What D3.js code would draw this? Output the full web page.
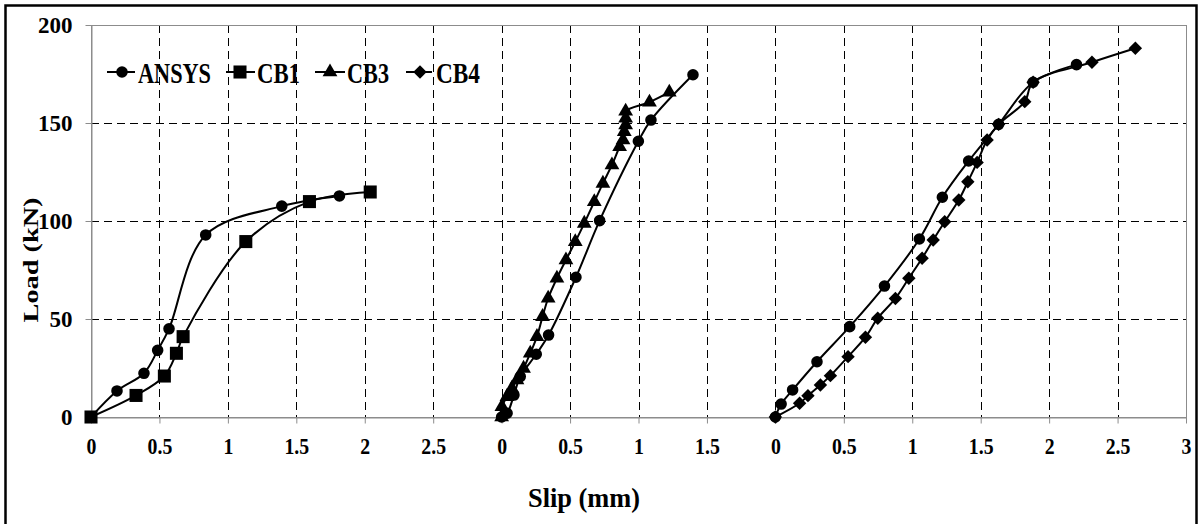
<!DOCTYPE html>
<html>
<head>
<meta charset="utf-8">
<script src="https://cdn.jsdelivr.net/npm/d3@7"></script>
<style>
  html, body { margin: 0; padding: 0; background: #fff; }
  svg { display: block; }
  text { font-family: "Liberation Serif", "DejaVu Serif", serif; font-weight: bold; fill: #000; }
</style>
</head>
<body>
<svg id="chart" width="1200" height="524"></svg>
<script>
// ---------------- DATA ----------------
// Shared x axis: three specimen groups placed side by side
const xTickLabels = ["0","0.5","1","1.5","2","2.5","0","0.5","1","1.5","0","0.5","1","1.5","2","2.5","3"];
const groupOffsets = [0, 3, 5];          // where each group's slip = 0 sits on the shared axis
const yTicks = [0, 50, 100, 150, 200];

// Group 1: ANSYS vs CB1
const ansys1Slip = [0, 0.19, 0.387, 0.487, 0.57, 0.838, 1.394, 1.815];
const ansys1Load = [0, 13.3, 22.3, 34, 45, 92.9, 107.6, 112.8];
const cb1Slip = [0, 0.329, 0.536, 0.624, 0.673, 1.131, 1.596, 2.04];
const cb1Load = [0, 11, 20.9, 32.5, 41, 89.5, 109.9, 114.8];

// Group 2: ANSYS vs CB3
const ansys3Slip = [0, 0.04, 0.09, 0.136, 0.253, 0.343, 0.543, 0.716, 0.999, 1.091, 1.398];
const ansys3Load = [0, 1.9, 11.2, 20.6, 32, 41.8, 71.3, 100.2, 140.7, 151.5, 174.6];
const cb3Slip = [0, 0.002, 0.039, 0.075, 0.112, 0.16, 0.209, 0.258, 0.299, 0.34, 0.404, 0.47, 0.538, 0.604, 0.677, 0.74, 0.806, 0.862, 0.887, 0.896, 0.906, 0.906, 0.906, 1.08, 1.225];
const cb3Load = [0, 5.3, 10.4, 14.6, 18.9, 24.8, 32.5, 41, 51.2, 60.6, 70.8, 80.1, 89.4, 98.8, 109.8, 119.2, 128.6, 137.9, 141.3, 145.6, 149, 152.4, 156, 160.6, 165.7];

// Group 3: ANSYS vs CB4
const ansys4Slip = [0, 0.042, 0.126, 0.304, 0.543, 0.797, 1.052, 1.22, 1.412, 1.631, 1.883, 2.2];
const ansys4Load = [0, 6.6, 13.8, 28.2, 46.1, 66.8, 90.8, 112.1, 130.6, 149.3, 170.8, 179.8];
const cb4Slip = [0, 0.177, 0.238, 0.329, 0.402, 0.531, 0.658, 0.748, 0.877, 0.975, 1.072, 1.153, 1.237, 1.34, 1.406, 1.474, 1.547, 1.631, 1.822, 1.883, 2.313, 2.63];
const cb4Load = [0, 7, 10.9, 16.3, 21.1, 30.8, 40.7, 50.4, 60.5, 70.8, 81, 90.3, 99.6, 110.7, 120, 129.9, 141.3, 149.3, 160.9, 170.8, 181, 188.1];

const legendNames = ["ANSYS", "CB1", "CB3", "CB4"];

// ---------------- CHART ----------------
const svg = d3.select("#chart");
const plot = { left: 91, right: 1186, top: 25, bottom: 417 };

const x = d3.scaleLinear().domain([0, 8]).range([plot.left, plot.right]);
const y = d3.scaleLinear().domain([0, 200]).range([plot.bottom, plot.top]);
const xTickVals = xTickLabels.map((_, i) => i * 0.5);

// outer frame
svg.append("rect").attr("x", 5.5).attr("y", 5.5).attr("width", 1191).attr("height", 600)
  .attr("fill", "#fff").attr("stroke", "#000").attr("stroke-width", 2.5);

// plot background
svg.append("rect").attr("x", plot.left).attr("y", plot.top)
  .attr("width", plot.right - plot.left).attr("height", plot.bottom - plot.top)
  .attr("fill", "#fff");

// gridlines
const grid = svg.append("g").attr("stroke", "#000").attr("stroke-width", 1).attr("stroke-dasharray", "8,5");
grid.selectAll("line.h").data(yTicks.filter(v => v > 0 && v < 200)).join("line")
  .attr("x1", plot.left).attr("x2", plot.right)
  .attr("y1", d => Math.round(y(d)) + 0.5).attr("y2", d => Math.round(y(d)) + 0.5);
grid.selectAll("line.v").data(xTickVals.filter(v => v > 0 && v < 8)).join("line")
  .attr("x1", d => Math.round(x(d)) + 0.5).attr("x2", d => Math.round(x(d)) + 0.5)
  .attr("y1", plot.top).attr("y2", plot.bottom);

// plot border (gray)
svg.append("rect").attr("x", plot.left + 0.5).attr("y", plot.top + 0.5)
  .attr("width", plot.right - plot.left).attr("height", plot.bottom - plot.top)
  .attr("fill", "none").attr("stroke", "#8c8c8c").attr("stroke-width", 1);

// axes
const xAxis = d3.axisBottom(x).tickValues(xTickVals)
  .tickFormat((d, i) => xTickLabels[i]).tickSizeInner(6).tickSizeOuter(0).tickPadding(14);
const gx = svg.append("g").attr("transform", `translate(0,${plot.bottom + 0.5})`).call(xAxis);
gx.select(".domain").attr("stroke", "#8c8c8c");
gx.selectAll(".tick line").attr("stroke", "#8c8c8c");
gx.selectAll(".tick text").attr("font-size", 23).attr("font-family", "Liberation Serif")
  .attr("font-weight", "bold").attr("fill", "#000").attr("transform", "scale(0.86,1)");

const yAxis = d3.axisLeft(y).tickValues(yTicks).tickSizeInner(6).tickSizeOuter(0).tickPadding(13);
const gy = svg.append("g").attr("transform", `translate(${plot.left + 0.5},0)`).call(yAxis);
gy.select(".domain").attr("stroke", "#8c8c8c");
gy.selectAll(".tick line").attr("stroke", "#8c8c8c");
gy.selectAll(".tick text").attr("font-size", 23).attr("font-family", "Liberation Serif")
  .attr("font-weight", "bold").attr("fill", "#000");

// axis titles
svg.append("text").attr("x", 584).attr("y", 507).attr("text-anchor", "middle")
  .attr("font-size", 28).attr("textLength", 112).attr("lengthAdjust", "spacingAndGlyphs")
  .text("Slip (mm)");
svg.append("text").attr("transform", "translate(38,260) rotate(-90)").attr("text-anchor", "middle")
  .attr("font-size", 22).attr("textLength", 125).attr("lengthAdjust", "spacingAndGlyphs")
  .text("Load (kN)");

// series
const symCircle = d3.symbol().type(d3.symbolCircle).size(105)();
const symSquare = d3.symbol().type(d3.symbolSquare).size(170)();
const symTriangle = d3.symbol().type(d3.symbolTriangle).size(95)();
const symDiamond = d3.symbol().type(d3.symbolSquare).size(90)();

function pts(slip, load, g) {
  return slip.map((s, i) => ({ u: s + groupOffsets[g], v: load[i] }));
}
const series = [
  { data: pts(ansys1Slip, ansys1Load, 0), sym: symCircle, rot: 0 },
  { data: pts(cb1Slip, cb1Load, 0), sym: symSquare, rot: 0 },
  { data: pts(ansys3Slip, ansys3Load, 1), sym: symCircle, rot: 0 },
  { data: pts(cb3Slip, cb3Load, 1), sym: symTriangle, rot: 0 },
  { data: pts(ansys4Slip, ansys4Load, 2), sym: symCircle, rot: 0 },
  { data: pts(cb4Slip, cb4Load, 2), sym: symDiamond, rot: 45 },
];
const line = d3.line().x(d => x(d.u)).y(d => y(d.v)).curve(d3.curveCatmullRom.alpha(0.5));

series.forEach(s => {
  svg.append("path").datum(s.data).attr("d", line)
    .attr("fill", "none").attr("stroke", "#000").attr("stroke-width", 2);
});
series.forEach(s => {
  svg.append("g").selectAll("path").data(s.data).join("path")
    .attr("d", s.sym).attr("fill", "#000")
    .attr("transform", d => `translate(${x(d.u)},${y(d.v)}) rotate(${s.rot})`);
});

// legend
const legendItems = [
  { name: legendNames[0], sym: symCircle, rot: 0, x1: 107, x2: 135, mx: 122, tx: 138, tw: 73 },
  { name: legendNames[1], sym: symSquare, rot: 0, x1: 226, x2: 255, mx: 240, tx: 257, tw: 43 },
  { name: legendNames[2], sym: symTriangle, rot: 0, x1: 315, x2: 345, mx: 330, tx: 347, tw: 42 },
  { name: legendNames[3], sym: symDiamond, rot: 45, x1: 406, x2: 432, mx: 420, tx: 436, tw: 44 },
];
const lg = svg.append("g");
legendItems.forEach(it => {
  lg.append("line").attr("x1", it.x1).attr("x2", it.x2).attr("y1", 72).attr("y2", 72)
    .attr("stroke", "#000").attr("stroke-width", 2);
  lg.append("path").attr("d", it.sym).attr("fill", "#000")
    .attr("transform", `translate(${it.mx},72) rotate(${it.rot})`);
  lg.append("text").attr("x", it.tx).attr("y", 83).attr("font-size", 30)
    .attr("textLength", it.tw).attr("lengthAdjust", "spacingAndGlyphs").text(it.name);
});
</script>
</body>
</html>
